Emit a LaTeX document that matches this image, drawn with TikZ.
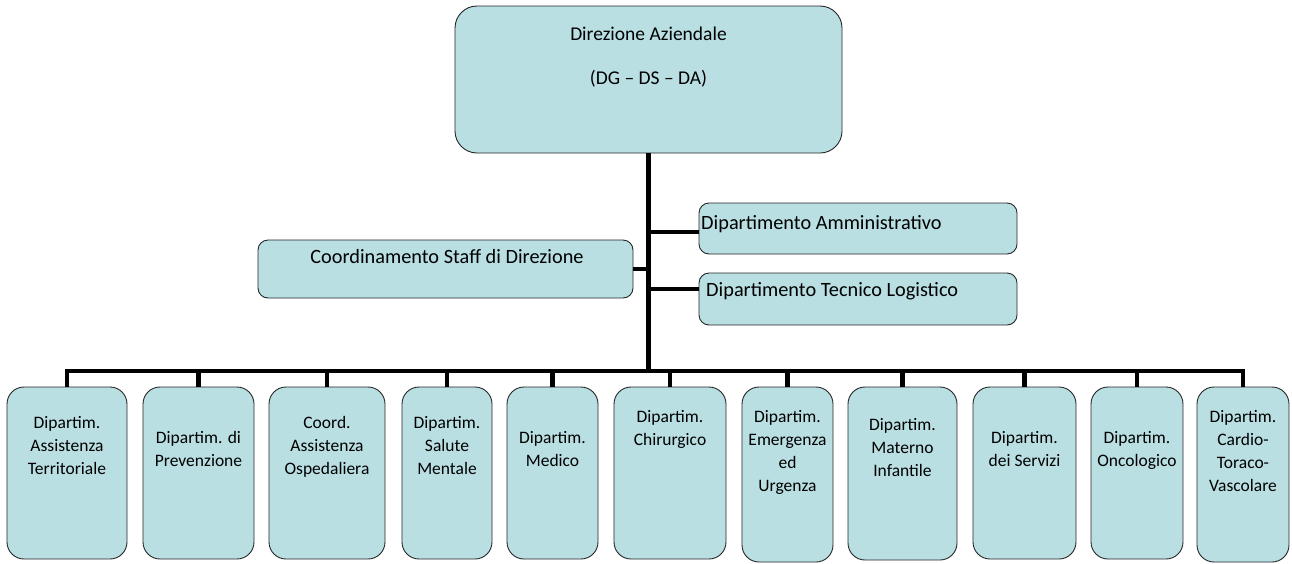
\documentclass[tikz,border=0pt]{standalone}
\usepackage{fontspec}
\setmainfont{Carlito}
\definecolor{boxblue}{RGB}{185,223,227}
\begin{document}
\begin{tikzpicture}[x=1pt,y=-1pt,
  box/.style={draw=black!85, line width=0.9pt, fill=boxblue, inner sep=0pt},
  dept/.style={box, rounded corners=17pt},
  conn/.style={draw=black, line width=4.5pt},
  sideconn/.style={draw=black, line width=3.5pt},
  btxt/.style={anchor=north, align=center, inner sep=0pt, font=\fontsize{17.5}{22.8}\selectfont},
  mtxt/.style={inner sep=0pt, font=\fontsize{20.3}{23}\selectfont},
  ttxt/.style={inner sep=0pt, font=\fontsize{19.5}{23}\selectfont},
]
\path[use as bounding box] (0,0) rectangle (1292,563);

% top box
\node[box, rounded corners=22pt, minimum width=387pt, minimum height=147pt] (dir) at (648.5,79.5) {};
\node[ttxt, anchor=base] (dirt1) at (648.5,40) {Direzione Aziendale};
\node[ttxt, anchor=base] (dirt2) at (648.5,84) {(DG – DS – DA)};

% middle boxes
\node[box, rounded corners=10pt, minimum width=318pt, minimum height=51pt] (amm) at (858,228.5) {};
\node[mtxt, anchor=base west] (ammt) at (701,229) {Dipartimento Amministrativo};
\node[box, rounded corners=10pt, minimum width=318pt, minimum height=52pt] (tec) at (858,299) {};
\node[mtxt, anchor=base west] (tect) at (706,296) {Dipartimento Tecnico Logistico};
\node[box, rounded corners=10pt, minimum width=375pt, minimum height=58pt] (coo) at (445.5,269) {};
\node[mtxt, anchor=base] (coot) at (447,263) {Coordinamento Staff di Direzione};

% bottom boxes
\foreach \n/\xa/\xb/\yb/\off/\txt in {
  1/7/127/559/30/{Dipartim.\\Assistenza\\Territoriale},
  2/143/254/559/45/{Dipartim. di\\Prevenzione},
  3/269/385/559/30/{Coord.\\Assistenza\\Ospedaliera},
  4/402/492/559/30/{Dipartim.\\Salute\\Mentale},
  5/507/598/559/45/{Dipartim.\\Medico},
  6/614/726/559/24/{Dipartim.\\Chirurgico},
  7/742/833/562/24/{Dipartim.\\Emergenza\\ed\\Urgenza},
  8/848/957/560/32/{Dipartim.\\Materno\\Infantile},
  9/973/1076/559/45/{Dipartim.\\dei Servizi},
  10/1091/1183/559/45/{Dipartim.\\Oncologico},
  11/1197/1289/562/24/{Dipartim.\\Cardio-\\Toraco-\\Vascolare}}
{
  \pgfmathsetmacro\w{\xb-\xa}
  \pgfmathsetmacro\h{\yb-387}
  \node[dept, minimum width=\w pt, minimum height=\h pt] (b\n) at ({(\xa+\xb)/2},{(387+\yb)/2}) {};
  \node[btxt] (t\n) at ([yshift=-\off pt]b\n.north) {\txt};
}

% connectors
\coordinate (bus) at (648.5,371);
\draw[conn] (dir.south) -- (bus);
\draw[conn] (b1.north) |- (bus) -| (b11.north);
\foreach \n in {2,...,10}
  \draw[conn] (b\n.north) -- (b\n.north |- bus);
\draw[sideconn] ([yshift=-3.5pt]amm.west) -- ([yshift=-3.5pt]amm.west -| dir.south);
\draw[sideconn] ([yshift=10pt]tec.west) -- ([yshift=10pt]tec.west -| dir.south);
\draw[conn] (coo.east) -- (coo.east -| dir.south);
\end{tikzpicture}
\end{document}
